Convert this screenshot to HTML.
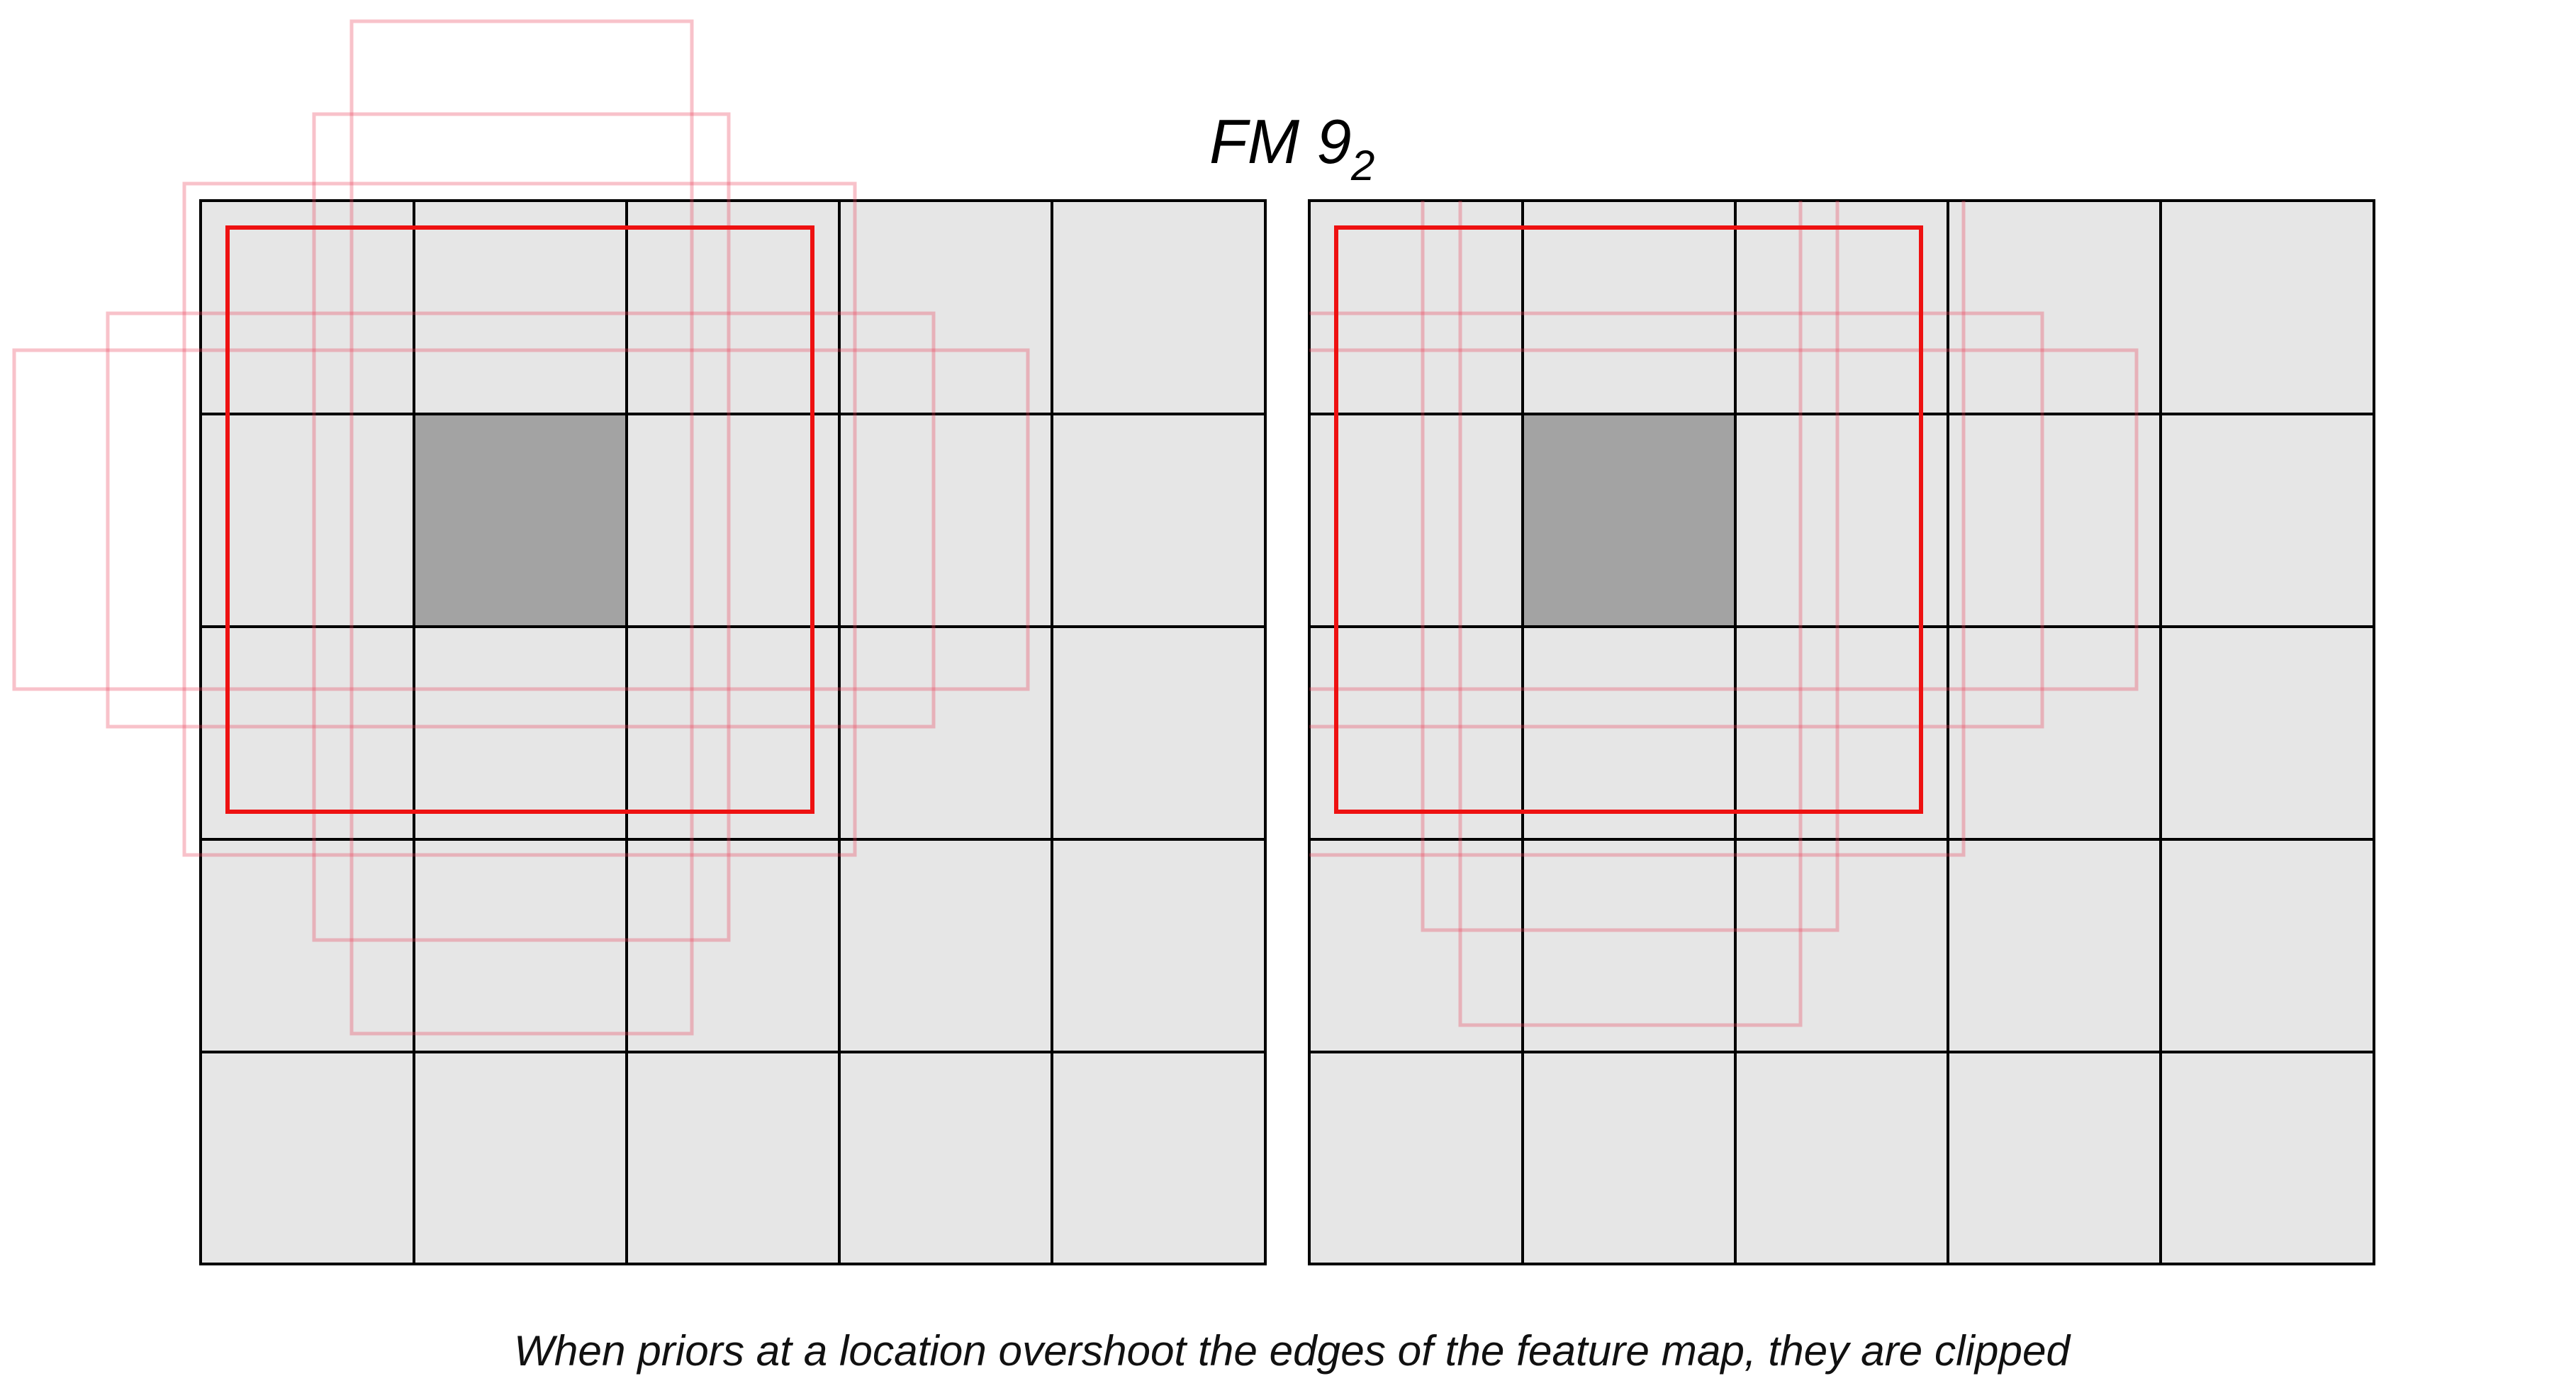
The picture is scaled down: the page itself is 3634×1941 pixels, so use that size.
<!DOCTYPE html>
<html><head><meta charset="utf-8"><style>
html,body{margin:0;padding:0;background:#fff;}
svg{display:block;}
</style></head><body>
<svg width="3634" height="1941" viewBox="0 0 3634 1941" xmlns="http://www.w3.org/2000/svg">
<defs>
<clipPath id="cr"><rect x="1847" y="283" width="1502" height="1500"/></clipPath>
<g id="grid">
<rect x="0" y="0" width="1502" height="1500" fill="#e6e6e6"/>
<rect x="301" y="301" width="300" height="300" fill="#a3a3a3"/>
<g stroke="#000" stroke-width="4" fill="none">
<rect x="0" y="0" width="1502" height="1500"/>
<line x1="301" y1="0" x2="301" y2="1500"/>
<line x1="601" y1="0" x2="601" y2="1500"/>
<line x1="901" y1="0" x2="901" y2="1500"/>
<line x1="1201" y1="0" x2="1201" y2="1500"/>
<line x1="0" y1="301" x2="1502" y2="301"/>
<line x1="0" y1="601" x2="1502" y2="601"/>
<line x1="0" y1="901" x2="1502" y2="901"/>
<line x1="0" y1="1201" x2="1502" y2="1201"/>
</g>
</g>
</defs>
<use href="#grid" x="283" y="283"/>
<use href="#grid" x="1847" y="283"/>
<g fill="none" stroke="#e8405a" stroke-opacity="0.32" stroke-width="5">
<rect x="260" y="259" width="946" height="947"/>
<rect x="443" y="161" width="585" height="1165"/>
<rect x="496" y="30" width="480" height="1428"/>
<rect x="152" y="442" width="1165" height="583"/>
<rect x="20" y="494" width="1430" height="478"/>
</g>
<g clip-path="url(#cr)" fill="none" stroke="#e8405a" stroke-opacity="0.32" stroke-width="5">
<rect x="1824" y="259" width="946" height="947"/>
<rect x="2007" y="161" width="585" height="1151"/>
<rect x="2060" y="30" width="480" height="1416"/>
<rect x="1716" y="442" width="1165" height="583"/>
<rect x="1584" y="494" width="1430" height="478"/>
</g>
<rect x="321" y="321" width="825" height="824" fill="none" stroke="#ee1111" stroke-width="6"/>
<rect x="1885" y="321" width="825" height="824" fill="none" stroke="#ee1111" stroke-width="6"/>
<text x="1706" y="230" font-family="Liberation Sans, sans-serif" font-style="italic" font-size="88" fill="#000">FM 9</text>
<text x="1906" y="254" font-family="Liberation Sans, sans-serif" font-style="italic" font-size="60" fill="#000">2</text>
<text x="725" y="1926" font-family="Liberation Sans, sans-serif" font-style="italic" font-size="60" fill="#111" textLength="2195" lengthAdjust="spacingAndGlyphs">When priors at a location overshoot the edges of the feature map, they are clipped</text>
</svg>
</body></html>
